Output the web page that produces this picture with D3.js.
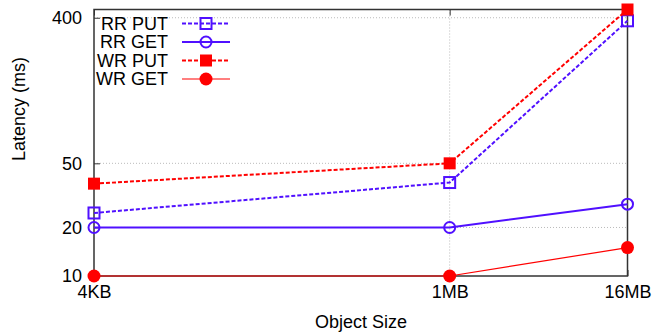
<!DOCTYPE html>
<html><head><meta charset="utf-8">
<script src="https://cdn.jsdelivr.net/npm/d3@7"></script>
<style>body{margin:0;background:#fff}svg{display:block}</style>
</head><body>
<script>
const sizes = [4096, 1048576, 16777216];
const sizeLabels = ["4KB", "1MB", "16MB"];
const yTicks = [10, 20, 50, 400];
const rrPut = [24.6, 38, 383];
const rrGet = [20, 20, 27.9];
const wrPut = [37.4, 50, 450];
const wrGet = [10, 10, 15];
const seriesNames = ["RR PUT", "RR GET", "WR PUT", "WR GET"];

const W = 663, H = 333;
const L = 94, R = 627.5, T = 9.5, B = 276;
const blue = "#5010ff", red = "#ff0000";
const font = "Liberation Sans, Arial, Helvetica, sans-serif";
const fs = 18;

const series = [
  {name: seriesNames[0], vals: rrPut, color: blue, dash: "4,2", width: 2, marker: "sq", fill: false},
  {name: seriesNames[1], vals: rrGet, color: blue, dash: null, width: 2, marker: "ci", fill: false},
  {name: seriesNames[2], vals: wrPut, color: red, dash: "4,2", width: 2, marker: "sq", fill: true},
  {name: seriesNames[3], vals: wrGet, color: red, dash: null, width: 1.2, marker: "ci", fill: true},
];

const svg = d3.select("body").append("svg").attr("width", W).attr("height", H);
const x = d3.scaleLog().base(2).domain([sizes[0], sizes[2]]).range([L, R]);
const y = d3.scaleLog().domain([10, 450]).range([B, T]);

// grid
const g = svg.append("g");
g.selectAll(".gy").data(yTicks.filter(t => t > 10)).join("line")
  .attr("x1", L).attr("x2", R).attr("y1", d => y(d)).attr("y2", d => y(d))
  .attr("stroke", "#bbb").attr("stroke-width", 1).attr("stroke-dasharray", "1,2");
g.selectAll(".gx").data(sizes.slice(1, 2)).join("line")
  .attr("x1", d => x(d)).attr("x2", d => x(d)).attr("y1", T).attr("y2", B)
  .attr("stroke", "#bbb").attr("stroke-width", 1).attr("stroke-dasharray", "1,2");

// axes
const yAxis = d3.axisLeft(y).tickValues(yTicks).tickFormat(d3.format("d")).tickSizeInner(-6).tickSizeOuter(0).tickPadding(12);
const ya = svg.append("g").attr("transform", `translate(${L},0)`).call(yAxis);
const xAxis = d3.axisBottom(x).tickValues(sizes).tickFormat((d, i) => sizeLabels[i]).tickSizeInner(-6).tickSizeOuter(0).tickPadding(12);
const xa = svg.append("g").attr("transform", `translate(0,${B})`).call(xAxis);
const xTop = d3.axisTop(x).tickValues(sizes).tickFormat("").tickSizeInner(-6).tickSizeOuter(0);
const xt = svg.append("g").attr("transform", `translate(0,${T})`).call(xTop);
[ya, xa, xt].forEach(a => {
  a.select(".domain").remove();
  a.selectAll("line").attr("stroke", "#333").attr("stroke-width", 1);
  a.selectAll("text").attr("font-family", font).attr("font-size", fs).attr("fill", "#000");
});
xa.selectAll("text").attr("dy", "0.55em");

// border
svg.append("rect").attr("x", L).attr("y", T).attr("width", R - L).attr("height", B - T)
  .attr("fill", "none").attr("stroke", "#333").attr("stroke-width", 1.5);

// lines
const line = d3.line().x((d, i) => x(sizes[i])).y(d => y(d));
function marker(sel, s, cx, cy) {
  if (s.marker === "sq") {
    const sz = s.fill ? 12 : 11;
    sel.append("rect").attr("x", cx - sz / 2).attr("y", cy - sz / 2).attr("width", sz).attr("height", sz)
      .attr("fill", s.fill ? s.color : "none").attr("stroke", s.color).attr("stroke-width", s.fill ? 0 : 2);
  } else {
    sel.append("circle").attr("cx", cx).attr("cy", cy).attr("r", s.fill ? 6.5 : 5.5)
      .attr("fill", s.fill ? s.color : "none").attr("stroke", s.color).attr("stroke-width", s.fill ? 0 : 2);
  }
}
series.forEach(s => {
  svg.append("path").datum(s.vals).attr("d", line).attr("fill", "none")
    .attr("stroke", s.color).attr("stroke-width", s.width).attr("stroke-dasharray", s.dash);
  const mg = svg.append("g");
  s.vals.forEach((v, i) => marker(mg, s, x(sizes[i]), y(v)));
});

// legend
const lg = svg.append("g");
series.forEach((s, i) => {
  const ly = 23.5 + i * 18.5;
  lg.append("text").attr("x", 168).attr("y", ly).attr("dy", "0.35em").attr("text-anchor", "end")
    .attr("font-family", font).attr("font-size", fs).text(s.name);
  lg.append("line").attr("x1", 182).attr("x2", 230).attr("y1", ly).attr("y2", ly)
    .attr("stroke", s.color).attr("stroke-width", s.width).attr("stroke-dasharray", s.dash);
  marker(lg, s, 206, ly);
});

// axis titles
svg.append("text").attr("transform", "translate(19,109) rotate(-90)").attr("text-anchor", "middle")
  .attr("dy", "0.35em").attr("font-family", font).attr("font-size", fs).text("Latency (ms)");
svg.append("text").attr("x", 361).attr("y", 322).attr("text-anchor", "middle").attr("dy", "0.35em")
  .attr("font-family", font).attr("font-size", fs).text("Object Size");
</script>
</body></html>
